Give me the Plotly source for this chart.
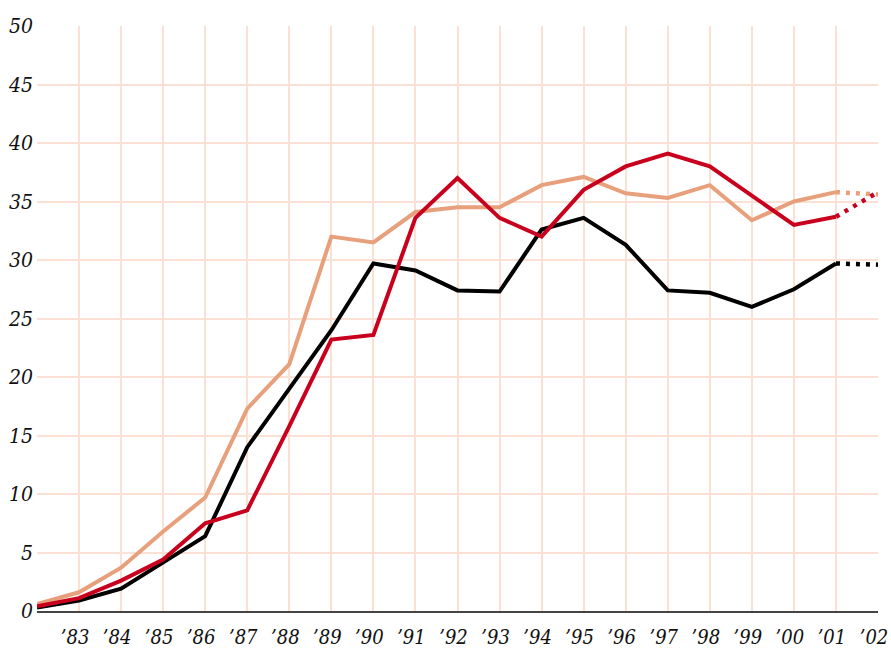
import plotly.graph_objects as go

years = list(range(1982, 2002))
proj_years = [2001, 2002]
tick_years = list(range(1982, 2003))
tick_labels = [""] + ["\u2019%02d" % (y % 100) for y in range(1983, 2003)]

salmon_vals = [0.6, 1.6, 3.7, 6.8, 9.7, 17.3, 21.1, 32.0, 31.5, 34.1, 34.5, 34.5, 36.4, 37.1, 35.7, 35.3, 36.4, 33.4, 35.0, 35.8]
salmon_proj = [35.8, 35.6]
black_vals = [0.3, 0.9, 1.9, 4.1, 6.4, 14.0, 19.0, 24.0, 29.7, 29.1, 27.4, 27.3, 32.6, 33.6, 31.3, 27.4, 27.2, 26.0, 27.5, 29.7]
black_proj = [29.7, 29.6]
red_vals = [0.4, 1.1, 2.6, 4.4, 7.5, 8.6, 15.8, 23.2, 23.6, 33.6, 37.0, 33.6, 32.0, 36.0, 38.0, 39.1, 38.0, 35.5, 33.0, 33.7]
red_proj = [33.7, 35.8]

SALMON = "#e8a07c"
BLACK = "#000000"
RED = "#c8001e"
GRID = "#fbe1d3"

fig = go.Figure()
for vals, proj, col in [(salmon_vals, salmon_proj, SALMON), (black_vals, black_proj, BLACK), (red_vals, red_proj, RED)]:
    fig.add_trace(go.Scatter(x=years, y=vals, mode="lines", line=dict(color=col, width=4), hoverinfo="skip"))
    fig.add_trace(go.Scatter(x=proj_years, y=proj, mode="lines", line=dict(color=col, width=4.5, dash="4px,6px"), hoverinfo="skip"))

xfont = dict(family="DejaVu Serif Condensed, Liberation Serif", size=20, color="#111", style="italic")
yfont = dict(family="DejaVu Serif Condensed, Liberation Serif", size=21, color="#111", style="italic")
fig.update_layout(
    width=891, height=658,
    margin=dict(l=37, r=13, t=26, b=47),
    paper_bgcolor="white", plot_bgcolor="white",
    showlegend=False,
    xaxis=dict(range=[1982, 2002], tickvals=tick_years, ticktext=tick_labels,
               showgrid=True, gridcolor=GRID, gridwidth=2, zeroline=False,
               showline=True, linecolor="#444", linewidth=2, ticks="",
               ticklabelstandoff=7, ticklabelshift=-4, tickfont=xfont,
               automargin=False, ticklabeloverflow="allow"),
    yaxis=dict(range=[0, 50], tickvals=list(range(0, 55, 5)),
               showgrid=True, gridcolor=GRID, gridwidth=2, zeroline=False,
               showline=False, ticks="", ticklabelstandoff=3, tickfont=yfont,
               automargin=False),
)
fig.write_html("out.html", config={"displayModeBar": False},
               post_script="document.body.style.margin='0';document.body.style.overflow='hidden';")
